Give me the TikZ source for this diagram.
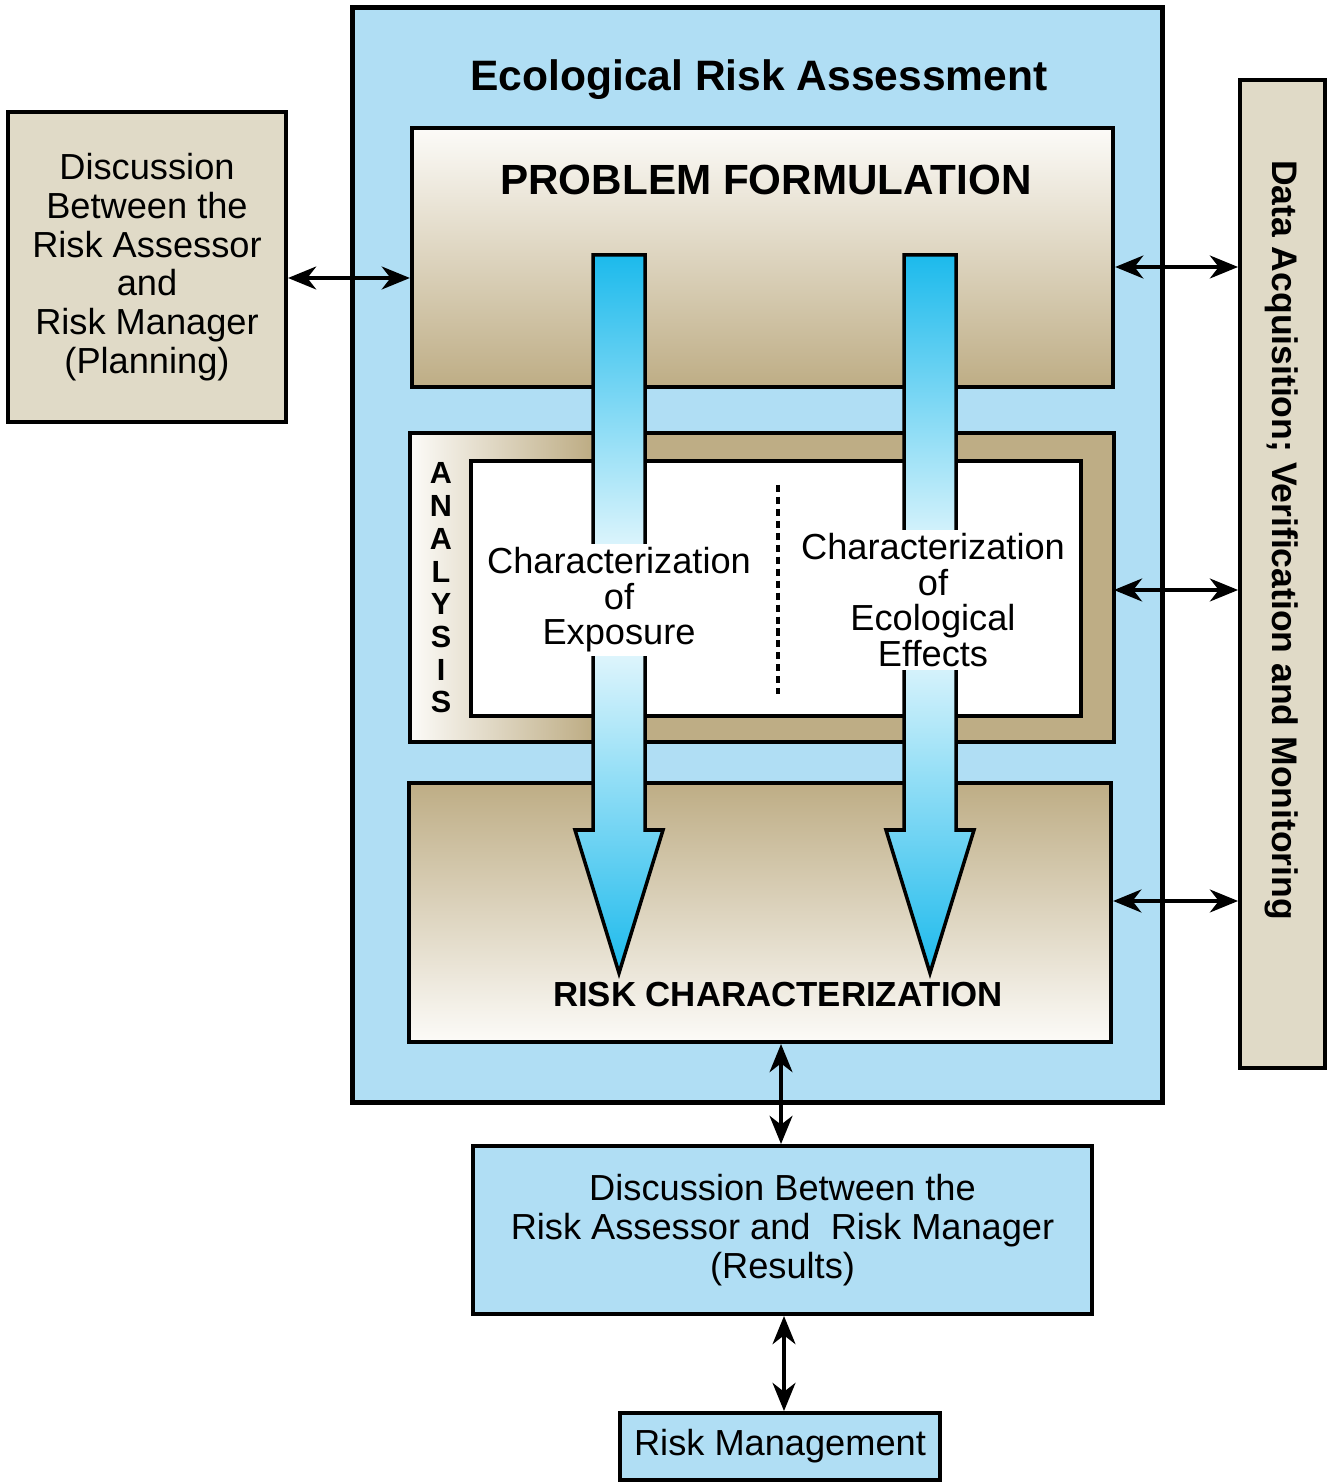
\documentclass[tikz,border=0pt]{standalone}
\usepackage{fontspec}
\setmainfont{Liberation Sans}
\usetikzlibrary{arrows.meta}
\usetikzlibrary{shadings}

\definecolor{eraBlue}{RGB}{176,222,244}
\definecolor{boxTan}{RGB}{190,173,133}
\definecolor{paleTan}{RGB}{224,218,199}
\definecolor{arrowBlue}{RGB}{28,186,236}
\definecolor{offWhite}{RGB}{252,251,248}

\begin{document}
\begin{tikzpicture}[x=0.01cm, y=-0.01cm,
  box/.style={draw, line width=1.1pt, inner sep=0pt},
  link/.style={<->, line width=1.1pt},
  >={Stealth[length=8pt, width=6.5pt, inset=2.5pt]},
  txt/.style={font=\fontsize{10.3}{11}\selectfont, align=center}]
\useasboundingbox (0,0) rectangle (1328,1483);

% outer frame
\node[box, line width=1.4pt, fill=eraBlue, minimum width=8.09cm, minimum height=10.94cm] (era) at (757.5,555) {};
\node[font=\bfseries\fontsize{12.1}{14}\selectfont] (title) at (759,80) {Ecological Risk Assessment};

% problem formulation
\node[box, top color=offWhite, bottom color=boxTan, minimum width=7.01cm, minimum height=2.59cm] (pf) at (762.5,257.5) {};
\node[font=\bfseries\fontsize{12}{14}\selectfont] (pftxt) at (766,180) {PROBLEM FORMULATION};

% analysis
\node[fill=boxTan, inner sep=0pt, minimum width=7.02cm, minimum height=3.07cm] (an) at (762,587.5) {};
\shade[left color=offWhite, right color=boxTan] (an.north west) rectangle ([xshift=1.8cm]an.south west);
\draw[line width=1.1pt] (an.north west) rectangle (an.south east);
\node[box, fill=white, minimum width=6.10cm, minimum height=2.55cm] (inner) at (776,588.5) {};
\node[font=\bfseries\fontsize{8.7}{9.3}\selectfont, align=center] (antxt) at (441,588) {A\\N\\A\\L\\Y\\S\\I\\S};
\draw[line width=1pt, dash pattern=on 2pt off 1.4pt] (778,485) -- (778,694);

% risk characterization
\node[box, top color=boxTan, bottom color=offWhite, minimum width=7.02cm, minimum height=2.59cm] (rc) at (760,912.5) {};
\node[font=\bfseries\fontsize{9.9}{12}\selectfont] (rctxt) at (778,995) {RISK CHARACTERIZATION};

% blue arrows
\foreach \c in {619,930} {
  \shade[top color=arrowBlue, bottom color=white] ({\c-26},255) rectangle ({\c+26},600);
  \shade[top color=white, bottom color=arrowBlue] ({\c-26},600) -- ({\c-26},830) -- ({\c-44},830) -- (\c,973) -- ({\c+44},830) -- ({\c+26},830) -- ({\c+26},600) -- cycle;
  \draw[line width=1pt] ({\c-26},255) -- ({\c+26},255) -- ({\c+26},830) -- ({\c+44},830) -- (\c,973) -- ({\c-44},830) -- ({\c-26},830) -- cycle;
}
\node[txt, fill=white, inner sep=1pt, font=\fontsize{10.3}{10.1}\selectfont] (expo) at (619,600) {Characterization\\of\\Exposure};
\node[txt, fill=white, inner sep=1pt, font=\fontsize{10.3}{10.15}\selectfont] (eco) at (933,600) {Characterization\\of\\Ecological\\Effects};

% side boxes
\node[box, txt, fill=paleTan, minimum width=2.78cm, minimum height=3.10cm] (plan) at (147,267) {Discussion\\Between the\\Risk Assessor\\and\\Risk Manager\\(Planning)};
\node[box, fill=paleTan, minimum width=0.85cm, minimum height=9.88cm] (data) at (1282.5,574) {};
\node[rotate=-90, font=\bfseries\fontsize{10.1}{12}\selectfont] (datatxt) at (1282,540) {Data Acquisition; Verification and Monitoring};

% bottom boxes
\node[box, txt, fill=eraBlue, minimum width=6.19cm, minimum height=1.68cm] (res) at (782.5,1230) {Discussion Between the\\Risk Assessor and~~Risk Manager\\(Results)};
\node[box, txt, fill=eraBlue, minimum width=3.2cm, minimum height=0.67cm] (rm) at (780,1446.5) {Risk Management};

% links
\draw[link] ([yshift=-0.11cm]plan.east) -- ([yshift=-0.11cm]plan.east -| pf.west);
\draw[link] ([yshift=-0.095cm]pf.east) -- ([yshift=-0.095cm]pf.east -| data.west);
\draw[link] ([yshift=-0.025cm]an.east) -- ([yshift=-0.025cm]an.east -| data.west);
\draw[link] ([yshift=0.115cm]rc.east) -- ([yshift=0.115cm]rc.east -| data.west);
\draw[link] ([xshift=0.21cm]rc.south) -- ([xshift=0.21cm]rc.south |- res.north);
\draw[link] ([xshift=0.015cm]res.south) -- ([xshift=0.015cm]res.south |- rm.north);
\end{tikzpicture}
\end{document}
